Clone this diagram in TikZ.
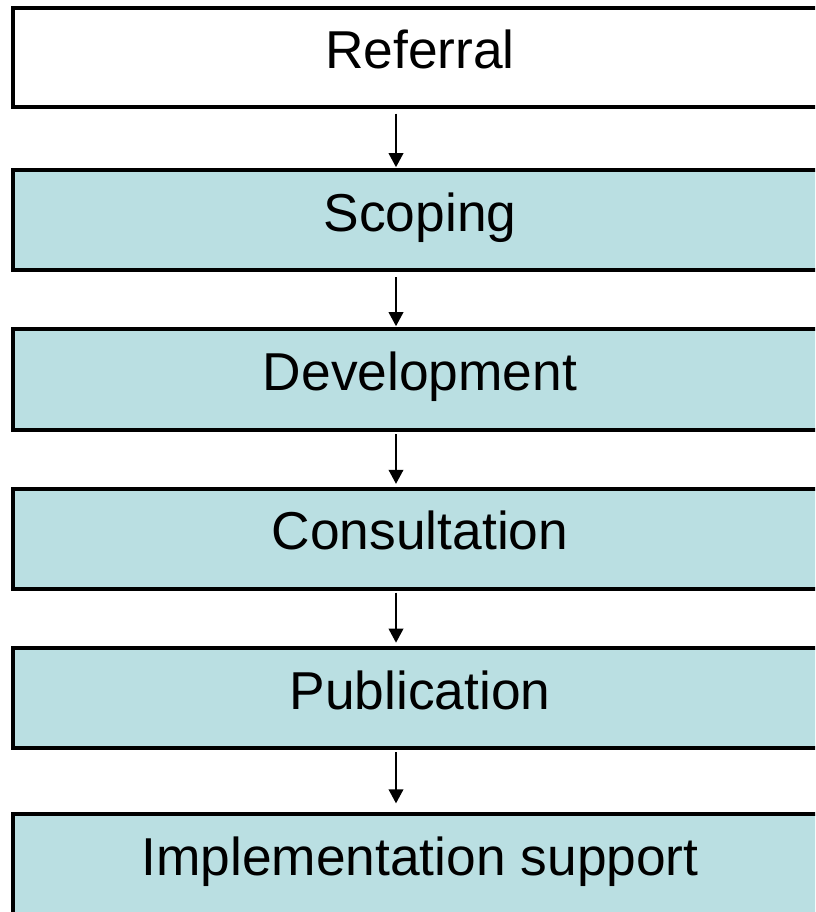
\documentclass[tikz,border=0pt]{standalone}
\usepackage{fontspec}
\setmainfont{Liberation Sans}
\usepackage{tikz}
\usetikzlibrary{arrows.meta}
\definecolor{stagefill}{HTML}{BADFE2}
\tikzstyle{stagebox} = [draw=black, fill=stagefill, line width=3pt,
    rectangle, outer sep=0pt, inner sep=0pt, minimum width=610.5pt,
    minimum height=75pt, text height=29pt, text depth=12pt,
    font=\fontsize{40}{48}\selectfont]
\tikzstyle{flowarrow} = [line width=1.2pt, -{Triangle[width=11pt,length=10.5pt]}]

\begin{document}
\begin{tikzpicture}[x=0.75pt, y=-0.75pt]
                \useasboundingbox (0,0) rectangle (815,912);
                \clip (0,0) rectangle (815,912);
                \node [stagebox, fill=white, minimum height=74.25pt] (box1) at (420,57.5) {Referral};
                \node [stagebox] (box2) at (420,220.5) {Scoping};
                \node [stagebox] (box3) at (420,379.5) {Development};
                \node [stagebox] (box4) at (420,538.5) {Consultation};
                \node [stagebox] (box5) at (420,698) {Publication};
                \node [stagebox] (box6) at (420,864) {Implementation support};
                \draw [flowarrow] ([xshift=-18pt,yshift=-5pt]box1.south) -- ([xshift=-18pt,yshift=2.5pt]box2.north);
                \draw [flowarrow] ([xshift=-18pt,yshift=-5pt]box2.south) -- ([xshift=-18pt,yshift=2.5pt]box3.north);
                \draw [flowarrow] ([xshift=-18pt,yshift=-3.5pt]box3.south) -- ([xshift=-18pt,yshift=3.5pt]box4.north);
                \draw [flowarrow] ([xshift=-18pt,yshift=-3pt]box4.south) -- ([xshift=-18pt,yshift=4pt]box5.north);
                \draw [flowarrow] ([xshift=-18pt,yshift=-3pt]box5.south) -- ([xshift=-18pt,yshift=8pt]box6.north);
            \end{tikzpicture}
\end{document}
